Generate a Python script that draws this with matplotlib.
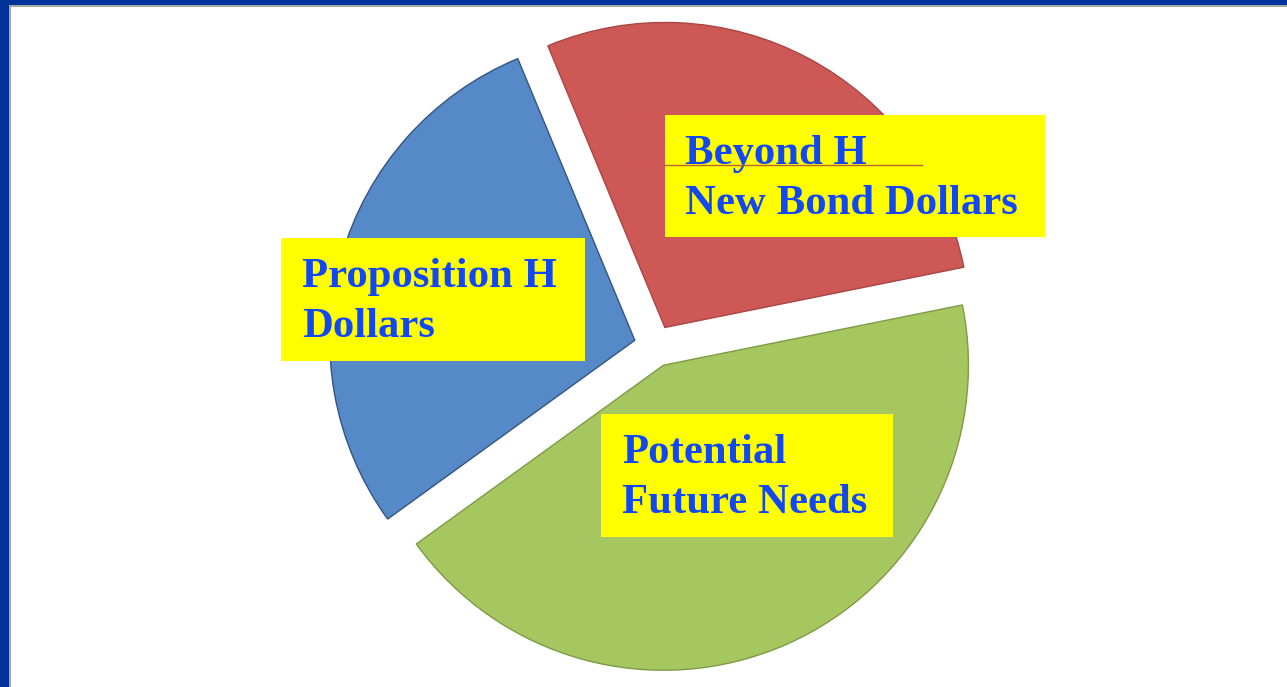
import matplotlib
matplotlib.use("Agg")
import matplotlib.pyplot as plt
from matplotlib.patches import Rectangle

# ---- data ----
categories = ["Beyond H New Bond Dollars", "Proposition H Dollars", "Potential Future Needs"]
shares = [28.1, 28.7, 43.2]
label_lines = [["Beyond H", "New Bond Dollars"],
               ["Proposition H", "Dollars"],
               ["Potential", "Future Needs"]]

# ---- style ----
slice_colors = ["#CD5856", "#5589C7", "#A6C760"]
edge_colors = ["#A84644", "#34557F", "#7F9A45"]
W, H = 1287, 687

fig = plt.figure(figsize=(W / 100, H / 100), dpi=100)
fig.patch.set_facecolor("white")
ax = fig.add_axes([0, 0, 1, 1])

cx, cy = 655, H - 346
radius = 305
wedges, _ = ax.pie(shares, colors=slice_colors, startangle=11.4, counterclock=True,
                   explode=[21, 21, 21], radius=radius, center=(cx, cy),
                   wedgeprops=dict(linewidth=1.0))
for w, ec in zip(wedges, edge_colors):
    w.set_edgecolor(ec)

ax.set_xlim(0, W)
ax.set_ylim(0, H)
ax.set_aspect("equal")
ax.axis("off")

# label boxes (image pixel coords: left, top, right, bottom), text origin
boxes = [(665, 115, 1045, 237), (281, 238, 585, 361), (601, 414, 893, 537)]
text_left = [685, 302, 622]
first_baseline = [164, 287, 463]
line_gap = 50
text_color = "#1247F5"

for (l, t, r, b), tl, fb, lines in zip(boxes, text_left, first_baseline, label_lines):
    ax.add_patch(Rectangle((l, H - b), r - l, b - t, facecolor="#FFFF00",
                           edgecolor="none", zorder=5))
    for i, s in enumerate(lines):
        ax.text(tl, H - (fb + i * line_gap), s, ha="left", va="baseline",
                fontsize=30.8, fontweight="bold", family=["Liberation Serif", "DejaVu Serif"],
                color=text_color, zorder=6)

# thin artifact line under "Beyond H"
ax.plot([665, 922], [H - 165, H - 165], color="#B5652D", lw=1.0, zorder=6)

# slide border (dark blue left and top)
fig.patches.append(Rectangle((0, 0), 9 / W, 1, transform=fig.transFigure,
                             facecolor="#003399", edgecolor="none", zorder=10))
fig.patches.append(Rectangle((0, 1 - 5 / H), 1, 5 / H, transform=fig.transFigure,
                             facecolor="#003399", edgecolor="none", zorder=10))
fig.patches.append(Rectangle((9 / W, 0), 1.5 / W, 1 - 5 / H, transform=fig.transFigure,
                             facecolor="#A8A8A8", edgecolor="none", zorder=10))
fig.patches.append(Rectangle((9 / W, 1 - 6.5 / H), 1 - 9 / W, 1.5 / H, transform=fig.transFigure,
                             facecolor="#A8A8A8", edgecolor="none", zorder=10))

fig.savefig("out.png", dpi=100)
